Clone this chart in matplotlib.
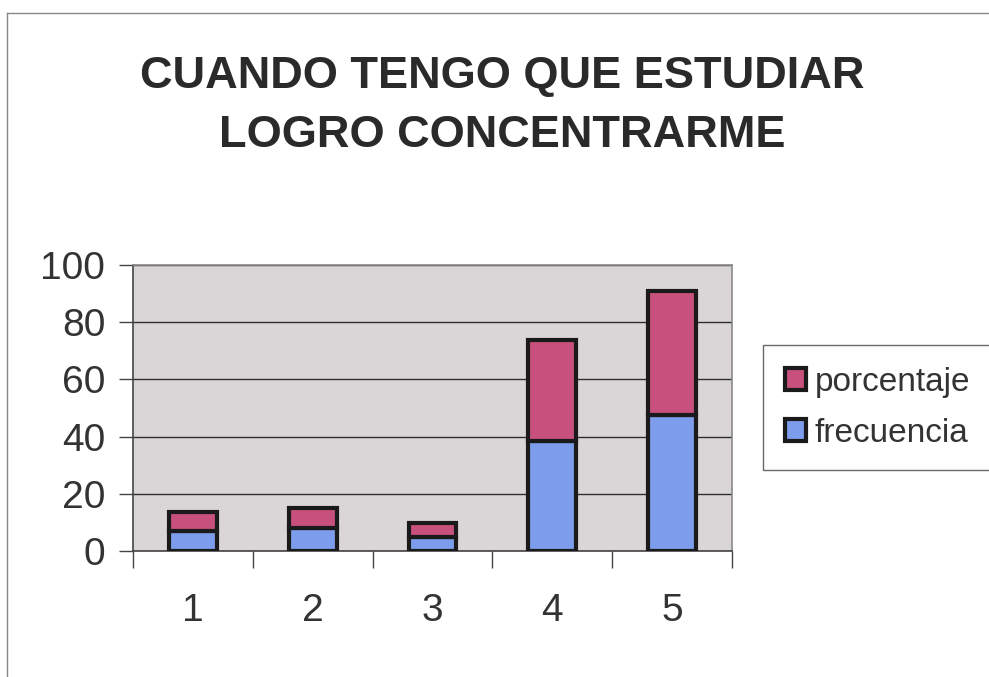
import matplotlib
matplotlib.use("Agg")
import matplotlib.pyplot as plt
from matplotlib.lines import Line2D
import numpy as np

categories = ["1", "2", "3", "4", "5"]
frecuencia = [7, 8, 5, 38.5, 47.5]
porcentaje = [6.5, 7.0, 4.7, 35.3, 43.4]
y_ticks = [0, 20, 40, 60, 80, 100]
title = "CUANDO TENGO QUE ESTUDIAR\nLOGRO CONCENTRARME"

pink = "#c8507c"
blue = "#7d9ceb"
plot_bg = "#dad5d6"
ink = "#333333"
font = "Liberation Sans"

fig = plt.figure(figsize=(9.89, 6.77), dpi=100)
ax = fig.add_axes([133 / 989, 1 - 551 / 677, (732 - 133) / 989, (551 - 265) / 677])
ax.set_facecolor(plot_bg)

x = np.arange(len(categories))
ax.bar(x, frecuencia, width=0.4, color=blue, edgecolor="#1a1a1a", linewidth=3,
       label="frecuencia", zorder=3)
ax.bar(x, porcentaje, width=0.4, bottom=frecuencia, color=pink, edgecolor="#1a1a1a",
       linewidth=3, label="porcentaje", zorder=3)

ax.set_xlim(-0.5, len(categories) - 0.5)
ax.set_ylim(0, 100)
ax.set_yticks(y_ticks)
ax.set_yticklabels([str(v) for v in y_ticks], fontsize=28, color=ink, family=font)
ax.yaxis.grid(True, color="#2e2e2e", linewidth=1.0, zorder=1)
ax.tick_params(axis="y", length=10, width=1, color="#444444", pad=10)

# category labels centred under bars, ticks on category boundaries
ax.set_xticks(np.arange(-0.5, len(categories)), minor=False)
ax.set_xticklabels([])
ax.set_xticks(x, minor=True)
ax.set_xticklabels(categories, minor=True, fontsize=28, color=ink, family=font)
ax.tick_params(axis="x", which="major", length=12, width=1, color="#444444")
ax.tick_params(axis="x", which="minor", length=0, pad=30)

for side in ("top", "right"):
    ax.spines[side].set_color("#8a8a8a")
    ax.spines[side].set_linewidth(1.2)
ax.spines["left"].set_color("#444444")
ax.spines["bottom"].set_color("#444444")
ax.spines["left"].set_linewidth(1.2)
ax.spines["bottom"].set_linewidth(1.2)

fig.text(0.508, 1 - 106 / 677, title, ha="center", va="center", fontsize=32.5,
         fontweight="bold", family=font, color="#2a2a2a", linespacing=1.55)

handles, labels = ax.get_legend_handles_labels()
leg = fig.legend(handles[::-1], labels[::-1], loc="upper left",
                 bbox_to_anchor=(763 / 989, 1 - 345 / 677), frameon=True,
                 fancybox=False, edgecolor="#444444",
                 prop={"family": font, "size": 24},
                 handlelength=0.65, handleheight=0.65, handletextpad=0.25,
                 labelspacing=0.6, borderpad=0.65, borderaxespad=0)
leg.get_frame().set_linewidth(1.0)
for t in leg.get_texts():
    t.set_color(ink)

# page frame along top and left edges
fig.add_artist(Line2D([7 / 989, 1.0], [1 - 13 / 677, 1 - 13 / 677],
                      transform=fig.transFigure, color="#888888", linewidth=1))
fig.add_artist(Line2D([7 / 989, 7 / 989], [0.0, 1 - 13 / 677],
                      transform=fig.transFigure, color="#888888", linewidth=1))

fig.savefig("out.png", dpi=100, facecolor="white")
